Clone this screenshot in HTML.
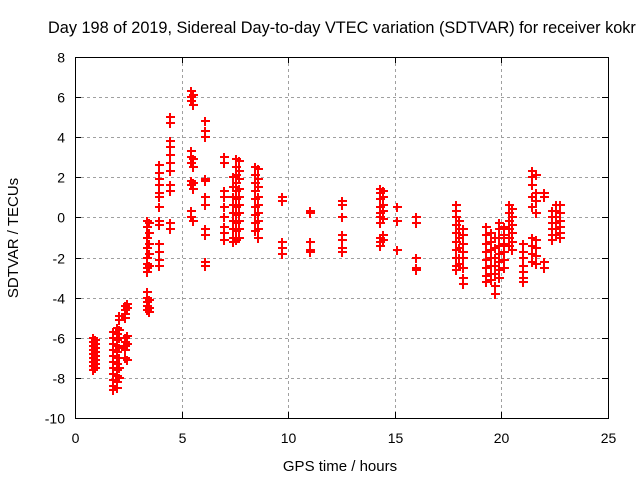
<!DOCTYPE html>
<html><head><meta charset="utf-8"><style>
html,body{margin:0;padding:0;background:#fff;}
svg{display:block;font-family:"Liberation Sans",sans-serif;}
</style></head><body>
<svg id="chart" width="640" height="480">
<text x="48" y="33" font-size="16.3" fill="#000">Day 198 of 2019, Sidereal Day-to-day VTEC variation (SDTVAR) for receiver kokr</text>
<text x="340" y="471" font-size="15" text-anchor="middle">GPS time / hours</text>
<text transform="translate(18,238) rotate(-90)" font-size="15" text-anchor="middle">SDTVAR / TECUs</text>
<g id="grid"></g><g id="ticks"></g><g id="marks" shape-rendering="crispEdges"></g>
<rect x="75.5" y="57.5" width="533" height="361" fill="none" stroke="#000"/>
</svg>
<script>
const xTicks=[0,5,10,15,20,25];
const yTicks=[-10,-8,-6,-4,-2,0,2,4,6,8];
const colHours=[0.85,0.95,1.8,1.95,2.05,2.35,2.45,3.4,3.45,3.95,4.45,5.45,5.55,6.1,7.0,7.4,7.55,7.7,8.45,8.6,9.7,11.0,12.5,14.3,14.45,15.1,16.0,17.85,18.0,18.2,19.3,19.5,19.7,19.9,20.1,20.35,20.5,21.0,21.45,21.6,22.0,22.35,22.55,22.75];
const colValues=[
[-6.0,-6.2,-6.4,-6.6,-6.8,-7.0,-7.2,-7.4,-7.6],
[-6.1,-6.3,-6.5,-6.7,-6.9,-7.1,-7.3,-7.5],
[-5.7,-6.0,-6.3,-6.6,-6.9,-7.2,-7.5,-7.8,-8.1,-8.4,-8.6],
[-5.5,-5.8,-6.1,-6.4,-6.7,-7.0,-7.3,-7.6,-7.9,-8.2,-8.5],
[-4.9,-5.1,-5.6,-6.0,-6.5,-7.0,-7.5,-8.0],
[-4.4,-4.6,-4.8,-5.0,-6.0,-6.2,-6.4,-6.6,-7.0],
[-4.3,-4.5,-5.9,-6.3,-7.1],
[-0.2,-0.5,-1.0,-1.5,-2.0,-2.3,-2.5,-2.7,-3.7,-4.0,-4.2,-4.4,-4.6],
[-0.3,-0.8,-1.3,-1.8,-2.4,-4.1,-4.5,-4.7],
[2.6,2.2,1.9,1.6,1.2,1.0,0.5,-0.2,-0.4,-1.3,-1.7,-2.1,-2.4],
[5.0,4.7,3.8,3.5,3.1,2.7,2.3,1.6,1.3,-0.3,-0.6],
[6.3,6.0,5.8,3.3,3.0,2.7,1.8,1.6,0.3,0.0],
[6.1,5.6,2.9,2.5,1.4,1.7,-0.2],
[4.8,4.3,4.0,1.9,1.8,1.0,0.6,-0.6,-0.9,-2.2,-2.4],
[3.0,2.7,1.3,1.0,0.5,0.0,-0.5,-0.8,-1.1],
[2.0,1.5,1.0,0.6,0.2,-0.2,-0.6,-1.0,-1.2],
[2.9,2.5,2.1,1.7,1.3,0.9,0.5,0.1,-0.3,-0.7,-1.1],
[2.8,2.3,1.9,1.4,1.0,0.6,0.2,-0.2,-0.6,-1.0],
[2.5,2.1,1.7,1.3,0.9,0.5,0.1,-0.3,-0.7],
[2.4,1.9,1.5,1.0,0.6,0.2,-0.2,-0.6,-1.0],
[1.0,0.8,-1.2,-1.5,-1.8],
[0.3,0.2,-1.2,-1.6,-1.7],
[0.8,0.6,0.0,-0.9,-1.1,-1.5,-1.7],
[1.4,1.2,0.9,0.5,0.2,0.0,-0.3,-1.0,-1.2,-1.4],
[1.3,1.0,0.6,0.3,-0.1,-0.9,-1.1],
[0.5,-0.2,-1.6],
[0.0,-0.3,-2.0,-2.5,-2.6],
[0.6,0.3,0.0,-0.4,-0.8,-1.2,-1.6,-2.0,-2.4,-2.6],
[-0.2,-0.6,-1.0,-1.5,-2.0,-2.3],
[-0.6,-0.9,-1.3,-1.7,-2.0,-2.5,-3.0,-3.3],
[-0.5,-0.9,-1.3,-1.7,-2.1,-2.5,-2.9,-3.2],
[-0.8,-1.2,-1.6,-2.0,-2.4,-2.8,-3.1],
[-1.0,-1.5,-2.0,-2.4,-2.8,-3.4,-3.8],
[-0.3,-0.6,-1.0,-1.4,-1.8,-2.2,-2.6,-3.0],
[-0.5,-0.9,-1.3,-1.7,-2.1,-2.5],
[0.6,0.2,-0.2,-0.6,-1.0,-1.4],
[0.4,0.0,-0.4,-0.8,-1.2,-1.6],
[-1.3,-1.7,-2.0,-2.4,-2.7,-3.0,-3.2],
[2.3,2.0,1.6,1.0,0.5,-1.0,-1.4,-1.8,-2.2],
[2.1,1.2,0.8,0.2,-1.1,-1.5,-1.9,-2.3],
[1.2,1.0,-2.2,-2.5],
[0.3,0.0,-0.3,-0.6,-0.9,-1.1],
[0.6,0.3,0.0,-0.3,-0.6,-0.9],
[0.6,0.2,-0.2,-0.5,-0.8,-1.0]
];
const L=75,R=608,T=57,B=418,X0=0,X1=25,Y0=-10,Y1=8;
const sx=v=>L+(v-X0)/(X1-X0)*(R-L);
const sy=v=>B-(v-Y0)/(Y1-Y0)*(B-T);
const NS="http://www.w3.org/2000/svg";
const grid=document.getElementById('grid'),ticks=document.getElementById('ticks'),marks=document.getElementById('marks');
function mk(tag,attrs,parent){const e=document.createElementNS(NS,tag);for(const k in attrs)e.setAttribute(k,attrs[k]);parent.appendChild(e);return e;}
xTicks.forEach(t=>{const x=Math.round(sx(t))+0.5;
 if(t>X0&&t<X1){const g=mk('line',{x1:x,x2:x,y1:T,y2:B,stroke:'#a0a0a0','stroke-dasharray':'3,3'},grid);
 
 }
 mk('line',{x1:x,x2:x,y1:B,y2:B-6,stroke:'#000'},ticks);mk('line',{x1:x,x2:x,y1:T,y2:T+6,stroke:'#000'},ticks);
 const lb=mk('text',{x:x,y:B+25,'font-size':14,'text-anchor':'middle'},ticks);lb.textContent=t;
 
 });
yTicks.forEach(t=>{const y=Math.round(sy(t))+0.5;
 if(t>Y0&&t<Y1){const g=mk('line',{x1:L,x2:R,y1:y,y2:y,stroke:'#a0a0a0','stroke-dasharray':'3,3'},grid);
 
 }
 mk('line',{x1:L,x2:L+6,y1:y,y2:y,stroke:'#000'},ticks);mk('line',{x1:R,x2:R-6,y1:y,y2:y,stroke:'#000'},ticks);
 const lb=mk('text',{x:L-10,y:y+5,'font-size':14,'text-anchor':'end'},ticks);lb.textContent=t;
 
 });
colHours.forEach((h,i)=>{colValues[i].forEach(v=>{
 const x=Math.round(sx(h)),y=Math.round(sy(v));
 const p=mk('path',{d:`M${x-4},${y}H${x+5}M${x},${y-4}V${y+5}`,stroke:'#ff0000','stroke-width':2,fill:'none'},marks);
 
 });});
</script>
</body></html>
